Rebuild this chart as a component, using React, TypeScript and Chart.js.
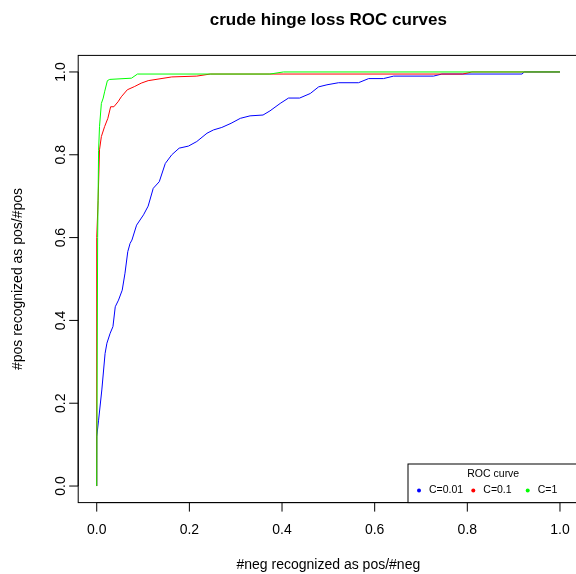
import { useEffect, useRef } from 'react';
import { Chart, registerables } from 'chart.js';

Chart.register(...registerables);

const chartTitle = 'crude hinge loss ROC curves';
const xAxisTitle = '#neg recognized as pos/#neg';
const yAxisTitle = '#pos recognized as pos/#pos';
const legendTitle = 'ROC curve';
const seriesNames = ['C=0.01', 'C=0.1', 'C=1'];
const seriesColors = ['#0000ff', '#ff0000', '#00ff00'];

const xTickValues = [0, 0.2, 0.4, 0.6, 0.8, 1];
const xTickLabels = ['0.0', '0.2', '0.4', '0.6', '0.8', '1.0'];
const yTickValues = [0, 0.2, 0.4, 0.6, 0.8, 1];
const yTickLabels = ['0.0', '0.2', '0.4', '0.6', '0.8', '1.0'];

const fprC001 = [0, 0, 0.004, 0.011, 0.018, 0.022, 0.029, 0.035, 0.04, 0.047, 0.055, 0.061, 0.067, 0.072, 0.076, 0.086, 0.101, 0.111, 0.122, 0.135, 0.148, 0.162, 0.178, 0.198, 0.216, 0.238, 0.252, 0.27, 0.29, 0.31, 0.331, 0.359, 0.374, 0.396, 0.414, 0.438, 0.461, 0.479, 0.497, 0.522, 0.565, 0.587, 0.619, 0.641, 0.727, 0.745, 0.918, 0.923, 1];
const tprC001 = [0, 0.119, 0.159, 0.232, 0.32, 0.345, 0.369, 0.385, 0.433, 0.449, 0.473, 0.514, 0.566, 0.586, 0.594, 0.63, 0.655, 0.676, 0.719, 0.735, 0.779, 0.8, 0.816, 0.821, 0.832, 0.852, 0.86, 0.866, 0.876, 0.888, 0.894, 0.896, 0.906, 0.924, 0.937, 0.937, 0.948, 0.964, 0.969, 0.974, 0.974, 0.984, 0.984, 0.99, 0.99, 0.995, 0.995, 1, 1];

const fprC01 = [0, 0, 0.003, 0.006, 0.01, 0.017, 0.024, 0.03, 0.037, 0.046, 0.053, 0.066, 0.082, 0.096, 0.111, 0.162, 0.216, 0.245, 0.374, 0.79, 0.81, 1];
const tprC01 = [0, 0.6, 0.69, 0.812, 0.844, 0.868, 0.888, 0.916, 0.916, 0.928, 0.94, 0.957, 0.965, 0.973, 0.979, 0.988, 0.99, 0.995, 0.995, 0.995, 1, 1];

const fprC1 = [0, 0.002, 0.004, 0.006, 0.01, 0.014, 0.017, 0.023, 0.028, 0.075, 0.088, 0.374, 0.403, 1];
const tprC1 = [0, 0.6, 0.81, 0.868, 0.924, 0.937, 0.952, 0.979, 0.982, 0.985, 0.995, 0.995, 1, 1];

const toPoints = (xs: number[], ys: number[]) => xs.map((x, i) => ({ x, y: ys[i] }));

const FONT = '"Liberation Sans", Arial, Helvetica, sans-serif';

const rDecor = {
  id: 'rDecor',
  afterDraw(chart: any) {
    const { ctx, chartArea } = chart;
    const xs = chart.scales.x;
    const ys = chart.scales.y;
    const { left, right, top, bottom } = chartArea;
    ctx.save();
    ctx.strokeStyle = '#000';
    ctx.fillStyle = '#000';
    ctx.lineWidth = 1;
    // box
    ctx.strokeRect(left, top, right - left, bottom - top);
    // x axis
    const tick = 9;
    ctx.beginPath();
    ctx.moveTo(xs.getPixelForValue(xTickValues[0]), bottom);
    ctx.lineTo(xs.getPixelForValue(xTickValues[xTickValues.length - 1]), bottom);
    xTickValues.forEach((v) => {
      const px = xs.getPixelForValue(v);
      ctx.moveTo(px, bottom);
      ctx.lineTo(px, bottom + tick);
    });
    // y axis
    ctx.moveTo(left, ys.getPixelForValue(yTickValues[0]));
    ctx.lineTo(left, ys.getPixelForValue(yTickValues[yTickValues.length - 1]));
    yTickValues.forEach((v) => {
      const py = ys.getPixelForValue(v);
      ctx.moveTo(left, py);
      ctx.lineTo(left - tick, py);
    });
    ctx.stroke();

    ctx.font = `14px ${FONT}`;
    ctx.textAlign = 'center';
    ctx.textBaseline = 'middle';
    xTickValues.forEach((v, i) => {
      ctx.fillText(xTickLabels[i], xs.getPixelForValue(v), bottom + 28);
    });
    yTickValues.forEach((v, i) => {
      ctx.save();
      ctx.translate(left - 17, ys.getPixelForValue(v));
      ctx.rotate(-Math.PI / 2);
      ctx.fillText(yTickLabels[i], 0, 0);
      ctx.restore();
    });

    // axis titles
    const cx = (left + right) / 2;
    const cy = (top + bottom) / 2;
    ctx.fillText(xAxisTitle, cx, 565);
    ctx.save();
    ctx.translate(18, cy);
    ctx.rotate(-Math.PI / 2);
    ctx.fillText(yAxisTitle, 0, 0);
    ctx.restore();

    // main title
    ctx.font = `bold 17px ${FONT}`;
    ctx.fillText(chartTitle, cx, 20);

    // legend
    const lgLeft = 408;
    const lgTop = 464;
    ctx.fillStyle = '#fff';
    ctx.fillRect(lgLeft, lgTop, right - lgLeft, bottom - lgTop);
    ctx.strokeStyle = '#000';
    ctx.strokeRect(lgLeft, lgTop, right - lgLeft, bottom - lgTop);
    ctx.fillStyle = '#000';
    ctx.font = `10.5px ${FONT}`;
    ctx.textAlign = 'center';
    ctx.fillText(legendTitle, (lgLeft + right) / 2, 474);
    const dotX = [419, 473.3, 527.7];
    ctx.textAlign = 'left';
    seriesNames.forEach((name, i) => {
      ctx.fillStyle = seriesColors[i];
      ctx.beginPath();
      ctx.arc(dotX[i], 490.5, 2, 0, Math.PI * 2);
      ctx.fill();
      ctx.fillStyle = '#000';
      ctx.fillText(name, dotX[i] + 10, 490.5);
    });
    ctx.restore();
  },
};

export default function App() {
  const ref = useRef<HTMLCanvasElement | null>(null);
  useEffect(() => {
    if (!ref.current) return;
    const chart = new Chart(ref.current, {
      type: 'scatter',
      data: {
        datasets: [
          {
            label: seriesNames[0],
            data: toPoints(fprC001, tprC001),
            borderColor: seriesColors[0],
            backgroundColor: seriesColors[0],
            showLine: true,
            borderWidth: 1,
            pointRadius: 0,
            order: 2,
          },
          {
            label: seriesNames[1],
            data: toPoints(fprC01, tprC01),
            borderColor: seriesColors[1],
            backgroundColor: seriesColors[1],
            showLine: true,
            borderWidth: 1,
            pointRadius: 0,
            order: 1,
          },
          {
            label: seriesNames[2],
            data: toPoints(fprC1, tprC1),
            borderColor: seriesColors[2],
            backgroundColor: seriesColors[2],
            showLine: true,
            borderWidth: 1,
            pointRadius: 0,
            order: 0,
          },
        ],
      },
      options: {
        responsive: false,
        animation: false,
        devicePixelRatio: 1,
        layout: { padding: { left: 78.2, right: 21.5, top: 55.4, bottom: 71.4 } },
        scales: {
          x: { type: 'linear', min: -0.04, max: 1.04, display: false },
          y: { type: 'linear', min: -0.04, max: 1.04, display: false },
        },
        plugins: {
          legend: { display: false },
          title: { display: false },
          tooltip: { enabled: false },
        },
      },
      plugins: [rDecor],
    });
    return () => chart.destroy();
  }, []);
  return (
    <div style={{ position: 'fixed', left: 0, top: 0, width: 576, height: 574, overflow: 'hidden', background: '#fff' }}>
      <canvas ref={ref} width={600} height={574} style={{ width: 600, height: 574, display: 'block' }} />
    </div>
  );
}
